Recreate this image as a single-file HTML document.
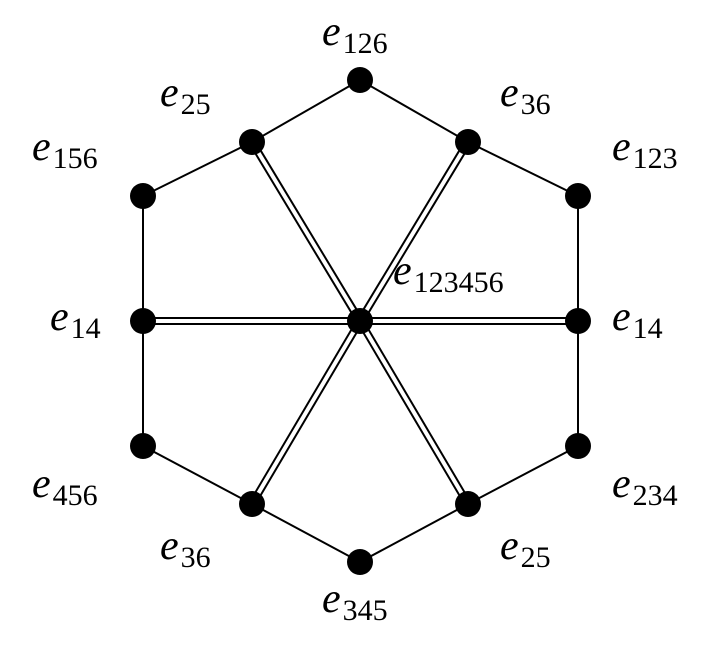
<!DOCTYPE html>
<html><head><style>body{margin:0;background:#fff}svg{display:block}text{font-family:"Liberation Serif",serif;font-size:42px}.e{font-style:italic}.s{font-size:30px;font-style:normal}</style></head><body>
<svg width="724" height="649" viewBox="0 0 724 649">
<g stroke="#000" stroke-width="2" fill="none">
<polyline points="143,196 252,142 360,80 468,142 578,196 578,446 468,504 360,562 252,504 143,446 143,196"/>
</g>
<g stroke="#000" stroke-width="8">
<line x1="360" y1="321" x2="252" y2="142"/><line x1="360" y1="321" x2="468" y2="142"/>
<line x1="360" y1="321" x2="143" y2="321"/><line x1="360" y1="321" x2="578" y2="321"/>
<line x1="360" y1="321" x2="252" y2="504"/><line x1="360" y1="321" x2="468" y2="504"/>
</g>
<g stroke="#fff" stroke-width="4">
<line x1="360" y1="321" x2="252" y2="142"/><line x1="360" y1="321" x2="468" y2="142"/>
<line x1="360" y1="321" x2="143" y2="321"/><line x1="360" y1="321" x2="578" y2="321"/>
<line x1="360" y1="321" x2="252" y2="504"/><line x1="360" y1="321" x2="468" y2="504"/>
</g>
<g fill="#000">
<circle cx="360" cy="80" r="13"/><circle cx="252" cy="142" r="13"/><circle cx="468" cy="142" r="13"/>
<circle cx="143" cy="196" r="13"/><circle cx="578" cy="196" r="13"/><circle cx="143" cy="321" r="13"/>
<circle cx="578" cy="321" r="13"/><circle cx="360" cy="321" r="13"/><circle cx="143" cy="446" r="13"/>
<circle cx="578" cy="446" r="13"/><circle cx="252" cy="504" r="13"/><circle cx="468" cy="504" r="13"/>
<circle cx="360" cy="562" r="13"/>
</g>
<g fill="#000">
<text x="322" y="45"><tspan class="e">e</tspan><tspan class="s" dx="2" dy="8">126</tspan></text>
<text x="160" y="106"><tspan class="e">e</tspan><tspan class="s" dx="2" dy="8">25</tspan></text>
<text x="500" y="106"><tspan class="e">e</tspan><tspan class="s" dx="2" dy="8">36</tspan></text>
<text x="32" y="160"><tspan class="e">e</tspan><tspan class="s" dx="2" dy="8">156</tspan></text>
<text x="612" y="160"><tspan class="e">e</tspan><tspan class="s" dx="2" dy="8">123</tspan></text>
<text x="393" y="284"><tspan class="e">e</tspan><tspan class="s" dx="2" dy="8">123456</tspan></text>
<text x="50" y="330"><tspan class="e">e</tspan><tspan class="s" dx="2" dy="8">14</tspan></text>
<text x="612" y="330"><tspan class="e">e</tspan><tspan class="s" dx="2" dy="8">14</tspan></text>
<text x="32" y="497"><tspan class="e">e</tspan><tspan class="s" dx="2" dy="8">456</tspan></text>
<text x="612" y="497"><tspan class="e">e</tspan><tspan class="s" dx="2" dy="8">234</tspan></text>
<text x="160" y="559"><tspan class="e">e</tspan><tspan class="s" dx="2" dy="8">36</tspan></text>
<text x="500" y="559"><tspan class="e">e</tspan><tspan class="s" dx="2" dy="8">25</tspan></text>
<text x="322" y="612"><tspan class="e">e</tspan><tspan class="s" dx="2" dy="8">345</tspan></text>
</g>
</svg>
</body></html>
